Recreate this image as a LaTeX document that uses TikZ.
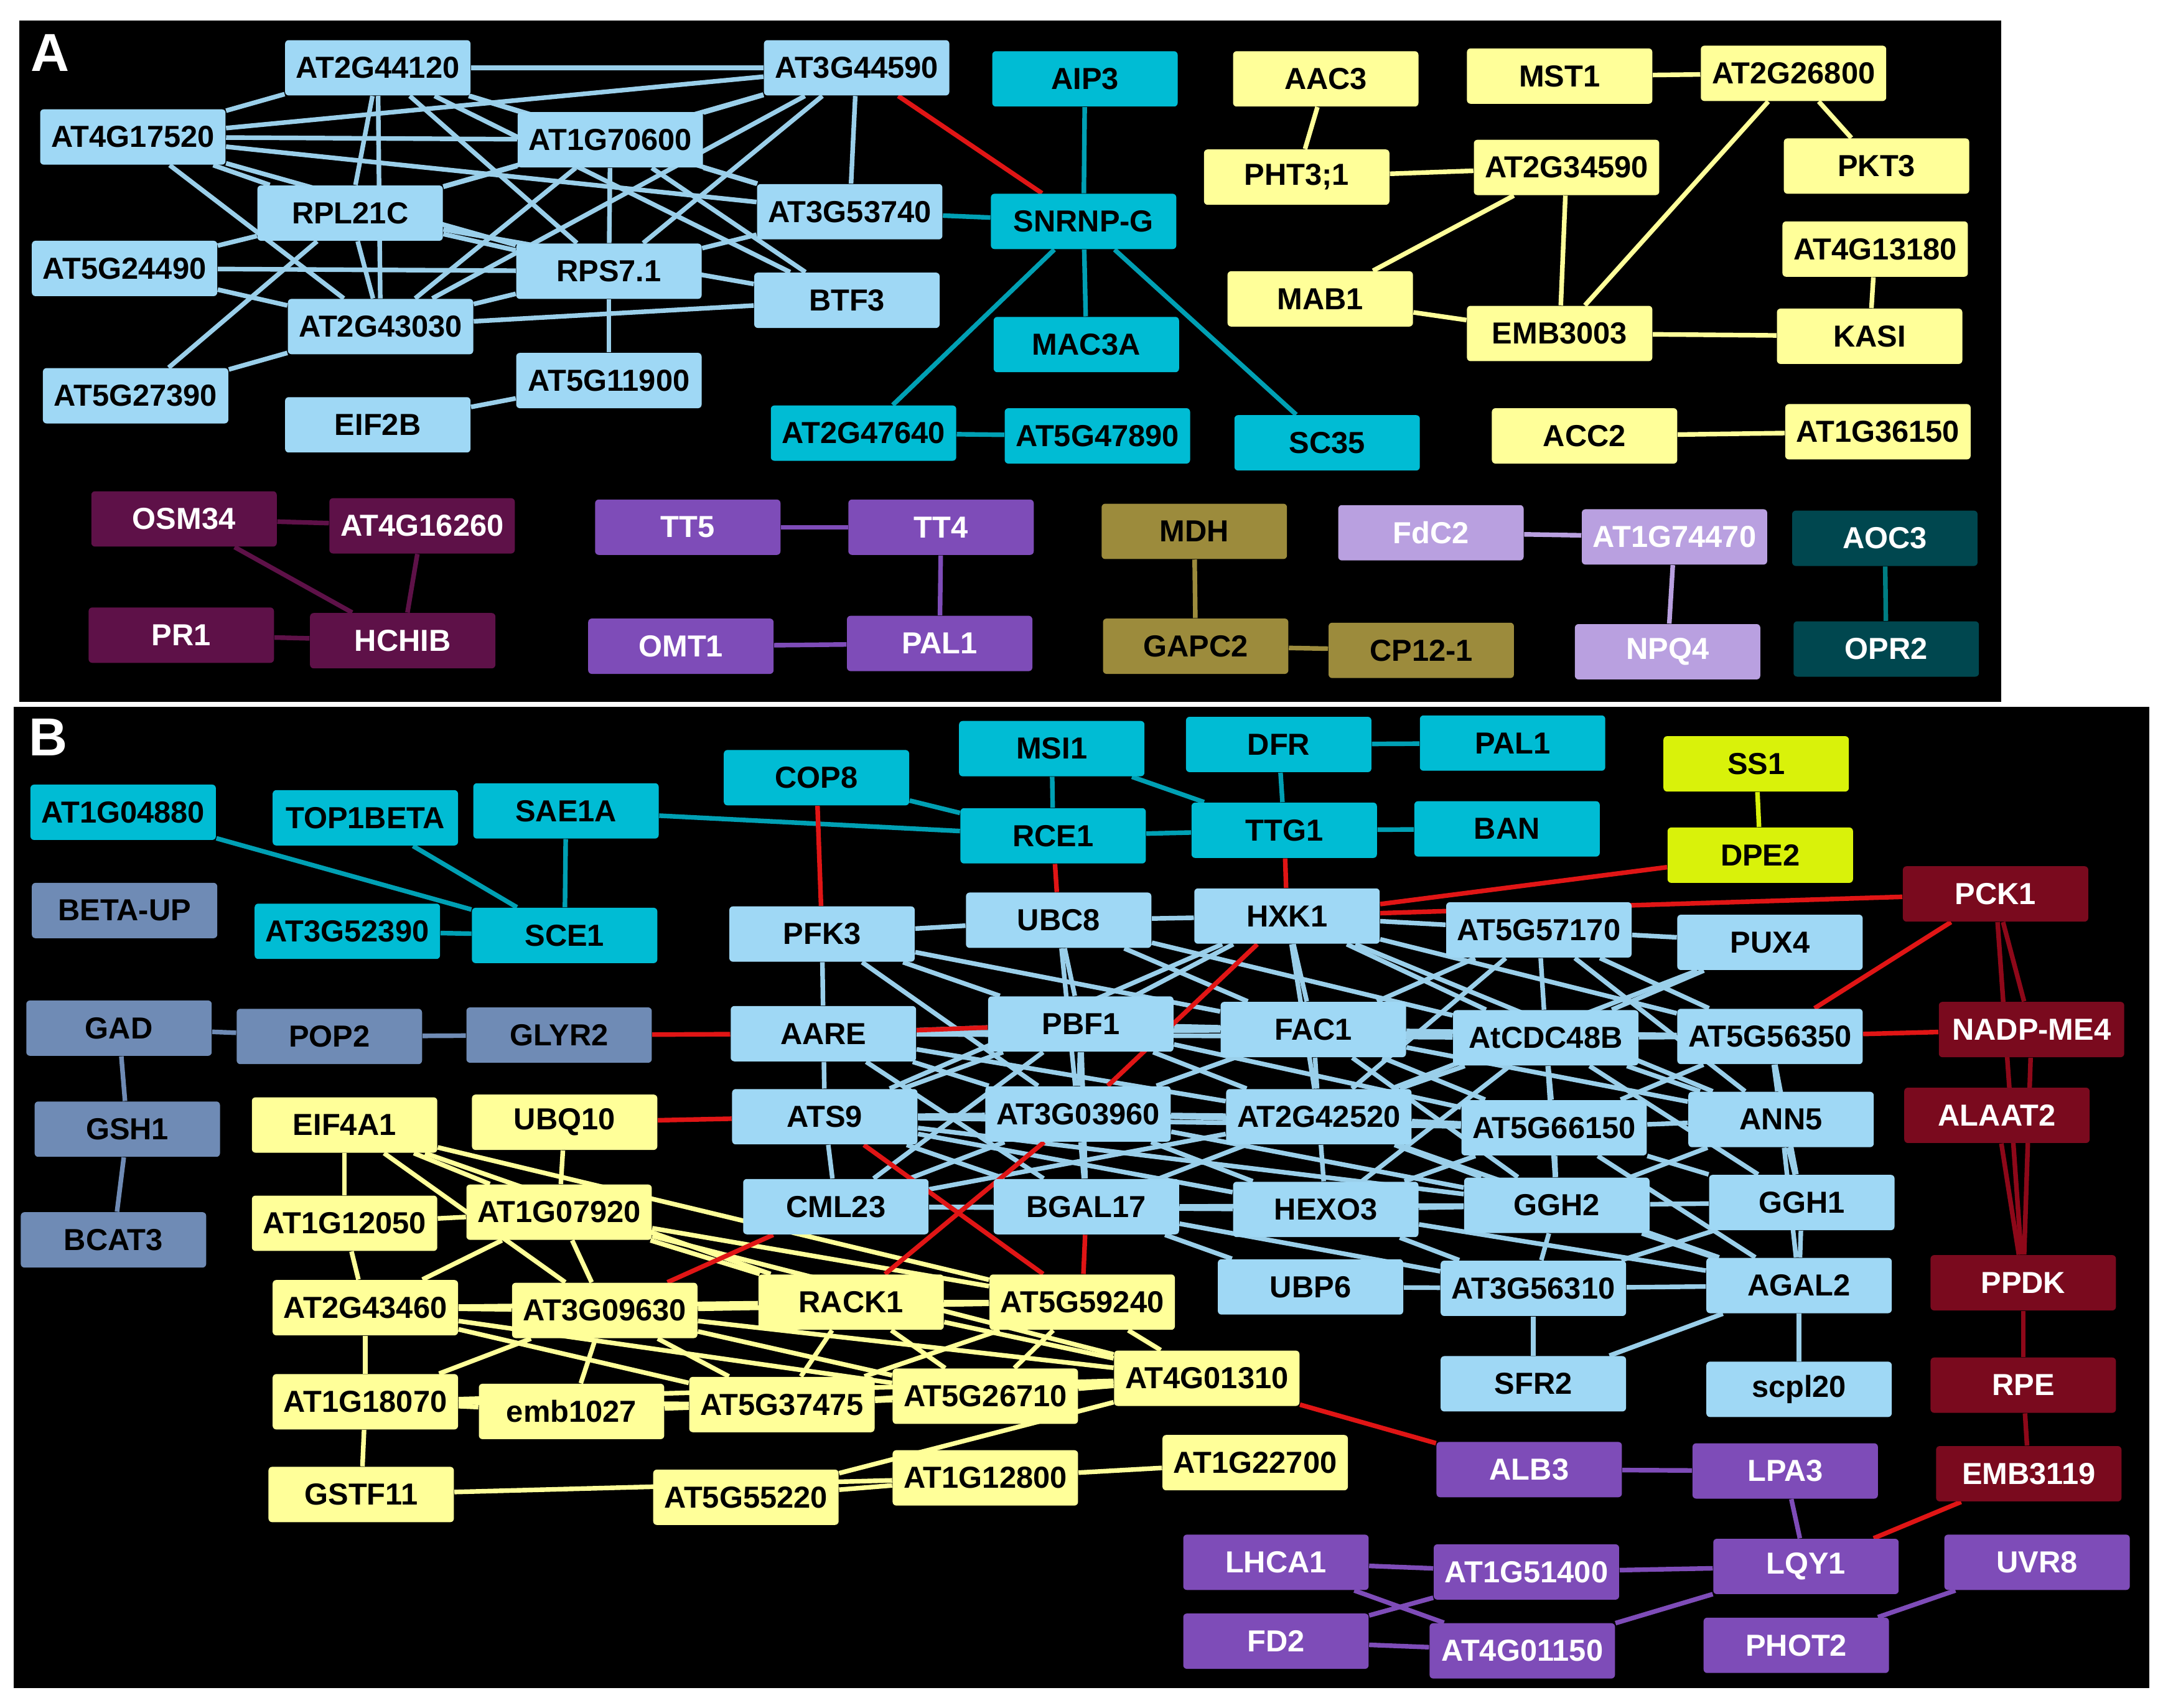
\documentclass[tikz,border=0pt]{standalone}
\usepackage{fontspec}
\setmainfont{Liberation Sans}
\pgfdeclarelayer{bg}\pgfdeclarelayer{edges}\pgfsetlayers{bg,edges,main}
\definecolor{lb}{HTML}{9FD8F5}\definecolor{lbe}{HTML}{9ACFEA}
\definecolor{cy}{HTML}{00BCD4}\definecolor{ye}{HTML}{FFFF99}
\definecolor{dp}{HTML}{5E1148}\definecolor{pu}{HTML}{7E4CB8}
\definecolor{ol}{HTML}{9C8B3C}\definecolor{la}{HTML}{B9A0E0}
\definecolor{dt}{HTML}{00474F}\definecolor{sl}{HTML}{6F8BB5}
\definecolor{li}{HTML}{D9F20A}\definecolor{dr}{HTML}{7A0A1E}
\definecolor{rd}{HTML}{E01515}
\tikzset{
 n/.style={rounded corners=1.5pt,minimum width=2.68cm,minimum height=0.8cm,inner sep=1pt,font=\fontsize{12.5}{14}\selectfont\bfseries},
 LB/.style={n,fill=lb,text=black},CY/.style={n,fill=cy,text=black},YE/.style={n,fill=ye,text=black},
 DP/.style={n,fill=dp,text=white},PU/.style={n,fill=pu,text=white},OL/.style={n,fill=ol,text=black},
 LA/.style={n,fill=la,text=white},DT/.style={n,fill=dt,text=white},SL/.style={n,fill=sl,text=black},
 LI/.style={n,fill=li,text=black},DR/.style={n,fill=dr,text=white},
 e/.style={line width=1.9pt}
}
\begin{document}
\begin{tikzpicture}[x=0.02cm,y=-0.02cm]
\useasboundingbox (0,0) rectangle (1563,1234);
\begin{pgfonlayer}{bg}
\fill[white] (0,0) rectangle (1563,1234);
\fill[black] (14,15) rectangle (1446,507);
\fill[black] (10,511) rectangle (1553,1220);
\end{pgfonlayer}
\node[white,font=\fontsize{22}{24}\selectfont\bfseries] at (36,38) {A};
\node[white,font=\fontsize{22}{24}\selectfont\bfseries] at (35,533) {B};
% ---- Panel A
\node[LB] (a44) at (273,49) {AT2G44120};
\node[LB] (b44) at (619,49) {AT3G44590};
\node[LB] (a17) at (96,99) {AT4G17520};
\node[LB] (a70) at (441,101) {AT1G70600};
\node[LB] (rpl) at (253,154) {RPL21C};
\node[LB] (a53) at (614,153) {AT3G53740};
\node[LB] (a24) at (90,194) {AT5G24490};
\node[LB] (rps) at (440,196) {RPS7.1};
\node[LB] (btf) at (612,217) {BTF3};
\node[LB] (a43) at (275,236) {AT2G43030};
\node[LB] (a11) at (440,275) {AT5G11900};
\node[LB] (a27) at (98,286) {AT5G27390};
\node[LB] (eif2) at (273,307) {EIF2B};
\node[CY] (aip) at (784,57) {AIP3};
\node[CY] (snr) at (783,160) {SNRNP-G};
\node[CY] (mac) at (785,249) {MAC3A};
\node[CY] (a47) at (624,313) {AT2G47640};
\node[CY] (b47) at (793,315) {AT5G47890};
\node[CY] (sc) at (959,320) {SC35};
\node[YE] (aac) at (958,57) {AAC3};
\node[YE] (mst) at (1127,55) {MST1};
\node[YE] (a26) at (1296,53) {AT2G26800};
\node[YE] (pht) at (937,128) {PHT3;1};
\node[YE] (a34) at (1132,121) {AT2G34590};
\node[YE] (pkt) at (1356,120) {PKT3};
\node[YE] (a13) at (1355,180) {AT4G13180};
\node[YE] (mab) at (954,216) {MAB1};
\node[YE] (emb) at (1127,241) {EMB3003};
\node[YE] (kas) at (1351,243) {KASI};
\node[YE] (acc) at (1145,315) {ACC2};
\node[YE] (a36) at (1357,312) {AT1G36150};
\node[DP] (osm) at (133,375) {OSM34};
\node[DP] (a16) at (305,380) {AT4G16260};
\node[DP] (pr1) at (131,459) {PR1};
\node[DP] (hch) at (291,463) {HCHIB};
\node[PU] (tt5) at (497,381) {TT5};
\node[PU] (tt4) at (680,381) {TT4};
\node[PU] (omt) at (492,467) {OMT1};
\node[PU] (pal) at (679,465) {PAL1};
\node[OL] (mdh) at (863,384) {MDH};
\node[OL] (gap) at (864,467) {GAPC2};
\node[OL] (cp) at (1027,470) {CP12-1};
\node[LA] (fdc) at (1034,385) {FdC2};
\node[LA] (a74) at (1210,388) {AT1G74470};
\node[LA] (npq) at (1205,471) {NPQ4};
\node[DT] (aoc) at (1362,389) {AOC3};
\node[DT] (opr) at (1363,469) {OPR2};
% ---- Panel B
\node[CY] (a048) at (89,587) {AT1G04880};
\node[CY] (top) at (264,591) {TOP1BETA};
\node[CY] (sae) at (409,586) {SAE1A};
\node[CY] (cop) at (590,562) {COP8};
\node[CY] (msi) at (760,541) {MSI1};
\node[CY] (dfr) at (924,538) {DFR};
\node[CY] (palb) at (1093,537) {PAL1};
\node[CY] (rce) at (761,604) {RCE1};
\node[CY] (ttg) at (928,600) {TTG1};
\node[CY] (ban) at (1089,599) {BAN};
\node[CY] (a523) at (251,673) {AT3G52390};
\node[CY] (sce) at (408,676) {SCE1};
\node[LI] (ss1) at (1269,552) {SS1};
\node[LI] (dpe) at (1272,618) {DPE2};
\node[SL] (beta) at (90,658) {BETA-UP};
\node[SL] (gad) at (86,743) {GAD};
\node[SL] (pop) at (238,749) {POP2};
\node[SL] (gly) at (404,748) {GLYR2};
\node[SL] (gsh) at (92,816) {GSH1};
\node[SL] (bca) at (82,896) {BCAT3};
\node[DR] (pck) at (1442,646) {PCK1};
\node[DR] (nad) at (1468,744) {NADP-ME4};
\node[DR] (ala) at (1443,806) {ALAAT2};
\node[DR] (ppd) at (1462,927) {PPDK};
\node[DR] (rpe) at (1462,1001) {RPE};
\node[DR] (e19) at (1466,1065) {EMB3119};
\node[LB] (pfk) at (594,675) {PFK3};
\node[LB] (ubc) at (765,665) {UBC8};
\node[LB] (hxk) at (930,662) {HXK1};
\node[LB] (a57) at (1112,672) {AT5G57170};
\node[LB] (pux) at (1279,681) {PUX4};
\node[LB] (aare) at (595,747) {AARE};
\node[LB] (pbf) at (781,740) {PBF1};
\node[LB] (fac) at (949,744) {FAC1};
\node[LB] (cdc) at (1117,750) {AtCDC48B};
\node[LB] (a56) at (1279,749) {AT5G56350};
\node[LB] (ats) at (596,807) {ATS9};
\node[LB] (a03) at (779,805) {AT3G03960};
\node[LB] (a42) at (953,807) {AT2G42520};
\node[LB] (a66) at (1123,815) {AT5G66150};
\node[LB] (ann) at (1287,809) {ANN5};
\node[LB] (cml) at (604,872) {CML23};
\node[LB] (bgal) at (785,872) {BGAL17};
\node[LB] (hexo) at (958,874) {HEXO3};
\node[LB] (ggh2) at (1125,871) {GGH2};
\node[LB] (ggh1) at (1302,869) {GGH1};
\node[LB] (ubp) at (947,930) {UBP6};
\node[LB] (a310) at (1108,931) {AT3G56310};
\node[LB] (agal) at (1300,929) {AGAL2};
\node[LB] (sfr) at (1108,1000) {SFR2};
\node[LB] (scpl) at (1300,1004) {scpl20};
\node[YE] (eif) at (249,813) {EIF4A1};
\node[YE] (ubq) at (408,811) {UBQ10};
\node[YE] (y050) at (249,884) {AT1G12050};
\node[YE] (y920) at (404,876) {AT1G07920};
\node[YE] (y460) at (264,945) {AT2G43460};
\node[YE] (y630) at (437,947) {AT3G09630};
\node[YE] (rack) at (615,941) {RACK1};
\node[YE] (y240) at (782,941) {AT5G59240};
\node[YE] (y070) at (264,1013) {AT1G18070};
\node[YE] (emb27) at (413,1020) {emb1027};
\node[YE] (y475) at (565,1015) {AT5G37475};
\node[YE] (y710) at (712,1009) {AT5G26710};
\node[YE] (y1310) at (872,996) {AT4G01310};
\node[YE] (gstf) at (261,1080) {GSTF11};
\node[YE] (y5220) at (539,1082) {AT5G55220};
\node[YE] (y800) at (712,1068) {AT1G12800};
\node[YE] (y700) at (907,1057) {AT1G22700};
\node[PU] (alb) at (1105,1062) {ALB3};
\node[PU] (lpa) at (1290,1063) {LPA3};
\node[PU] (lhc) at (922,1129) {LHCA1};
\node[PU] (p514) at (1103,1136) {AT1G51400};
\node[PU] (lqy) at (1305,1132) {LQY1};
\node[PU] (uvr) at (1472,1129) {UVR8};
\node[PU] (fd2) at (922,1186) {FD2};
\node[PU] (p011) at (1100,1193) {AT4G01150};
\node[PU] (pho) at (1298,1189) {PHOT2};
% ---- edges
\begin{pgfonlayer}{edges}
\foreach \a/\b in {a44/b44,a44/a17,a44/rpl,a44/a43,a44/a70,a44/a53,a44/rps,a44/btf,b44/a17,b44/a70,b44/rpl,b44/a53,b44/rps,b44/a43,a17/a70,a17/rpl,a17/a43,a17/a53,a17/rps,a70/a53,a70/rpl,a70/btf,a70/rps,a70/a43,rpl/a24,rpl/rps,rpl/a43,rpl/btf,rpl/a27,a24/rps,a24/a43,rps/a43,rps/a11,rps/a53,a43/a27,a43/btf,a11/eif2,
 pfk/ubc,pfk/aare,pfk/pbf,pfk/fac,pfk/a03,ubc/hxk,ubc/pbf,ubc/fac,ubc/a03,ubc/cdc,hxk/a57,hxk/pbf,hxk/fac,hxk/cdc,hxk/a56,hxk/a42,hxk/ats,hxk/ann,a57/cdc,a57/pux,a57/fac,a57/a56,a57/a42,a57/ann,pux/cdc,pux/a42,aare/pbf,aare/a03,aare/ats,aare/fac,aare/a42,aare/bgal,aare/cdc,pbf/fac,pbf/a03,pbf/ats,pbf/bgal,pbf/cml,pbf/a42,pbf/cdc,pbf/a66,fac/cdc,fac/a42,fac/a03,fac/ann,fac/a56,fac/ggh2,fac/a66,cdc/a56,cdc/a66,cdc/a42,cdc/ann,cdc/ggh1,cdc/ggh2,cdc/hexo,a56/ann,a56/a66,a56/ggh1,ats/a03,ats/cml,ats/bgal,ats/a42,ats/hexo,ats/a66,a03/a42,a03/bgal,a03/cml,a03/hexo,a03/ggh2,a03/a66,a42/a66,a42/hexo,a42/ggh2,a42/bgal,a42/agal,a66/ann,a66/ggh2,a66/ggh1,a66/agal,a66/hexo,ann/ggh1,ann/ggh2,ann/agal,cml/bgal,cml/hexo,bgal/hexo,bgal/ggh2,bgal/ubp,bgal/a310,hexo/ggh2,hexo/a310,hexo/agal,ggh2/ggh1,ggh2/agal,ggh2/a310,ggh1/agal,ggh1/a310,ubp/a310,a310/agal,a310/sfr,agal/scpl,agal/sfr,ats/ggh2,cml/a42}
  \draw[e,lbe] (\a) -- (\b);
\foreach \a/\b in {aip/snr,snr/mac,snr/a47,snr/sc,a47/b47,a53/snr,
 a048/sce,top/sce,sae/sce,sae/rce,cop/rce,msi/rce,msi/ttg,dfr/ttg,dfr/palb,rce/ttg,ttg/ban,a523/sce}
  \draw[e,cy!85!black] (\a) -- (\b);
\foreach \a/\b in {aac/pht,mst/a26,a26/pkt,a26/emb,pht/a34,a34/mab,a34/emb,mab/emb,emb/kas,a13/kas,acc/a36,
 eif/y920,eif/rack,eif/y630,eif/y240,ubq/y920,y050/y920,y920/y460,y920/y630,y920/rack,y920/y240,y920/y1310,y460/y630,y460/rack,y460/y070,y460/y475,y460/y710,y630/rack,y630/y070,y630/emb27,y630/y475,y630/y710,y630/y1310,y630/y240,rack/y240,rack/y710,rack/y475,rack/y1310,y240/y1310,y240/y710,y240/y475,y070/emb27,y070/y475,y070/y1310,y070/gstf,emb27/y475,y475/y710,y710/y1310,y475/y1310,gstf/y800,y5220/y800,y5220/y1310,y800/y700,y050/y460,eif/y050}
  \draw[e,ye] (\a) -- (\b);
\foreach \a/\b in {osm/a16,osm/hch,a16/hch,pr1/hch} \draw[e,dp] (\a) -- (\b);
\foreach \a/\b in {tt5/tt4,tt4/pal,omt/pal,alb/lpa,lpa/lqy,lhc/p514,p514/lqy,p514/fd2,fd2/p011,lhc/p011,p011/lqy,pho/uvr} \draw[e,pu] (\a) -- (\b);
\foreach \a/\b in {mdh/gap,gap/cp} \draw[e,ol] (\a) -- (\b);
\foreach \a/\b in {fdc/a74,a74/npq} \draw[e,la] (\a) -- (\b);
\draw[e,dt!70!cyan] (aoc) -- (opr);
\draw[e,li] (ss1) -- (dpe);
\foreach \a/\b in {gad/pop,pop/gly,gad/gsh,gsh/bca} \draw[e,sl] (\a) -- (\b);
\foreach \a/\b in {pck/ppd,nad/ppd,ala/ppd,pck/nad,ppd/rpe,rpe/e19} \draw[e,dr!85!red] (\a) -- (\b);
\foreach \a/\b in {b44/snr,cop/pfk,rce/ubc,ttg/hxk,dpe/hxk,gly/aare,pck/hxk,pck/a56,nad/a56,e19/lqy,ubq/ats,y630/cml,rack/a03,y240/bgal,y240/ats,y1310/alb,pbf/aare,a03/hxk}
  \draw[e,rd] (\a) -- (\b);
\end{pgfonlayer}
\end{tikzpicture}
\end{document}
